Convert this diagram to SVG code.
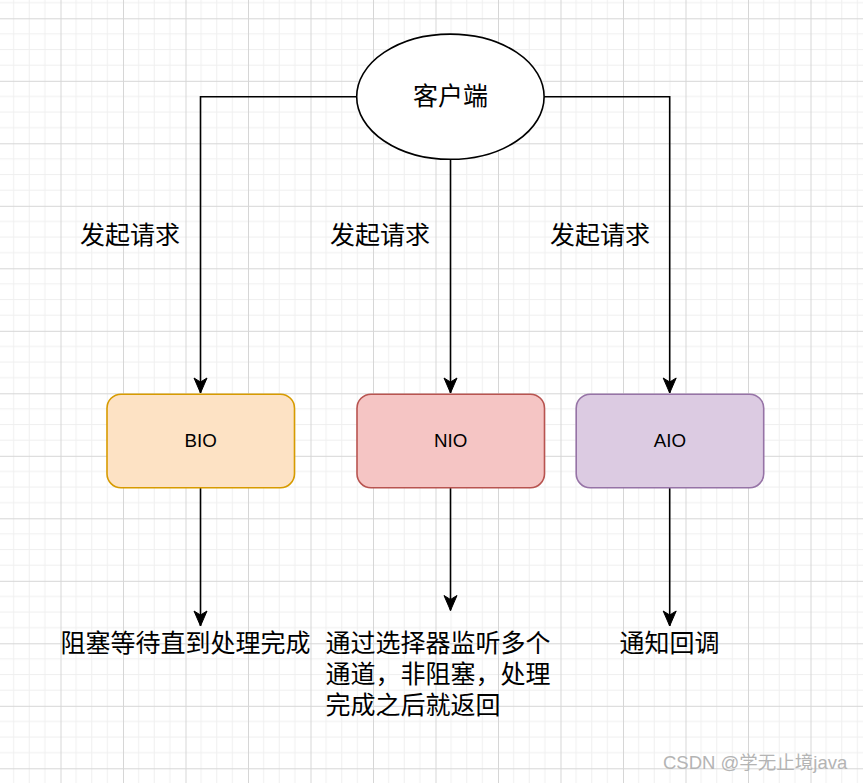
<svg xmlns="http://www.w3.org/2000/svg" width="863" height="783" viewBox="0 0 863 783">
<style>
.cn{font-family:"Noto Sans CJK SC","Noto Sans",sans-serif;font-size:25px;fill:#000}
.lat{font-family:"Liberation Sans",Arial,sans-serif;font-size:18.75px;fill:#000;text-anchor:middle}
.edge{fill:none;stroke:#000;stroke-width:1.6}
.minor{stroke:#efefef;stroke-width:1}
.major{stroke:#d6d6d6;stroke-width:1}
</style>
<defs>
<pattern id="grid" patternUnits="userSpaceOnUse" x="60.5" y="18.3" width="62.5" height="62.5">
<path class="minor" d="M15.625 0V62.5M31.25 0V62.5M46.875 0V62.5M0 15.625H62.5M0 31.25H62.5M0 46.875H62.5"/>
<path class="major" d="M0.5 0V62.5M0 0.5H62.5"/>
</pattern>
<marker id="arr" markerUnits="userSpaceOnUse" markerWidth="20" markerHeight="20" refX="0" refY="0" orient="auto" overflow="visible">
<path d="M0 0L-15 -6.5L-11 0L-15 6.5Z" fill="#000" stroke="#000" stroke-width="1"/>
</marker>
</defs>
<rect width="863" height="783" fill="#fff"/>
<rect width="863" height="783" fill="url(#grid)"/>
<g id="connectors">
<path class="edge" d="M356.7 96.7H200.5V393" marker-end="url(#arr)"/>
<path class="edge" d="M450.5 159.4V393" marker-end="url(#arr)"/>
<path class="edge" d="M544 96.7H669.7V393" marker-end="url(#arr)"/>
<path class="edge" d="M200.5 487.5V626" marker-end="url(#arr)"/>
<path class="edge" d="M450.5 487.5V610.5" marker-end="url(#arr)"/>
<path class="edge" d="M669.7 487.5V626" marker-end="url(#arr)"/>
<text class="cn" x="130" y="244.2" text-anchor="middle">发起请求</text>
<text class="cn" x="380" y="244.2" text-anchor="middle">发起请求</text>
<text class="cn" x="600" y="244.2" text-anchor="middle">发起请求</text>
</g>
<g id="client">
<ellipse cx="450.4" cy="96.7" rx="93.7" ry="62.6" fill="#fff" stroke="#000" stroke-width="1.6"/>
<text class="cn" x="450.4" y="104.5" text-anchor="middle">客户端</text>
</g>
<g id="bio">
<rect x="107" y="394.2" width="187.5" height="93.5" rx="14" fill="#fde2c4" stroke="#d79b00" stroke-width="1.6"/>
<text class="lat" x="200.7" y="447.2">BIO</text>
</g>
<g id="nio">
<rect x="357" y="394.2" width="187.5" height="93.5" rx="14" fill="#f5c5c4" stroke="#b85450" stroke-width="1.6"/>
<text class="lat" x="450.7" y="447.2">NIO</text>
</g>
<g id="aio">
<rect x="576.2" y="394.2" width="187.5" height="93.5" rx="14" fill="#dccbe2" stroke="#9673a6" stroke-width="1.6"/>
<text class="lat" x="669.9" y="447.2">AIO</text>
</g>
<g id="bio-result">
<text class="cn" x="60.5" y="651.5">阻塞等待直到处理完成</text>
</g>
<g id="nio-result">
<text class="cn"><tspan x="325.5" y="651.5">通过选择器监听多个</tspan><tspan x="325.5" y="682.7">通道，非阻塞，处理</tspan><tspan x="325.5" y="714">完成之后就返回</tspan></text>
</g>
<g id="aio-result">
<text class="cn" x="669.5" y="652" text-anchor="middle">通知回调</text>
</g>
<text x="663" y="769" font-family="'Liberation Sans','Noto Sans CJK SC',sans-serif" font-size="18.5" fill="#b4b4b4">CSDN @学无止境java</text>
</svg>
